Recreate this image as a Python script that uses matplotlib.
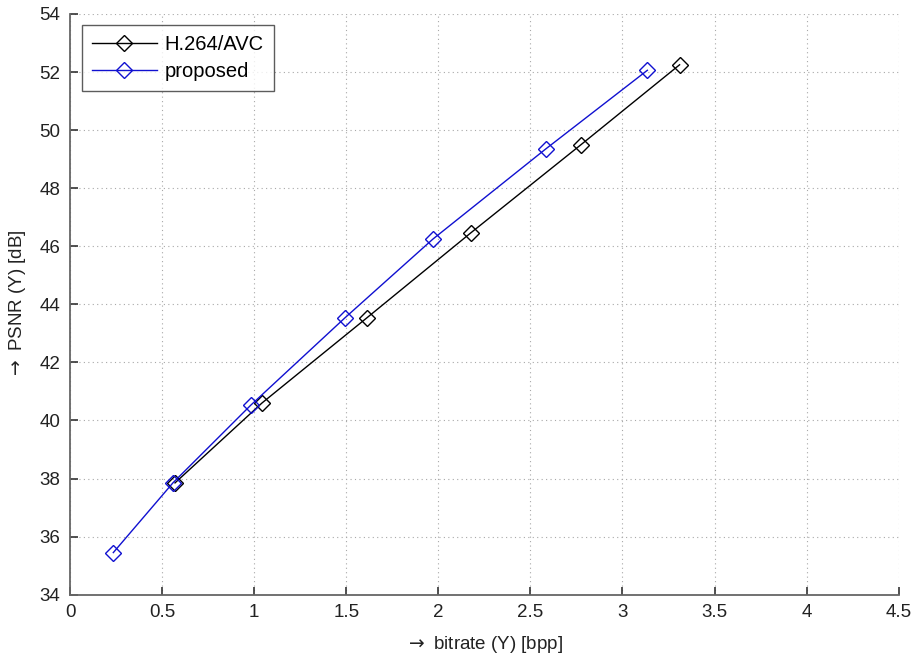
import matplotlib
matplotlib.use("Agg")
import matplotlib.pyplot as plt

h264_rate = [0.570, 1.042, 1.611, 2.176, 2.773, 3.310]
h264_psnr = [37.85, 40.60, 43.53, 46.46, 49.49, 52.25]
prop_rate = [0.235, 0.560, 0.982, 1.492, 1.971, 2.583, 3.135]
prop_psnr = [35.45, 37.86, 40.53, 43.53, 46.25, 49.35, 52.06]

xticks = [0, 0.5, 1, 1.5, 2, 2.5, 3, 3.5, 4, 4.5]
yticks = [34, 36, 38, 40, 42, 44, 46, 48, 50, 52, 54]

plt.rcParams['font.family'] = ['Liberation Sans', 'DejaVu Sans']

fig = plt.figure(figsize=(9.18, 6.62), dpi=100)
ax = fig.add_axes([0.0763, 0.1017, 0.9027, 0.8772])

ax.plot(h264_rate, h264_psnr, color='black', lw=1.0, marker='D', ms=8.5,
        mfc='none', mec='black', mew=1.0, label='H.264/AVC')
ax.plot(prop_rate, prop_psnr, color='#1010d0', lw=1.0, marker='D', ms=8.5,
        mfc='none', mec='#1010d0', mew=1.0, label='proposed')

ax.set_xlim(0, 4.5)
ax.set_ylim(34, 54)
ax.set_xticks(xticks)
ax.set_xticklabels([f"{t:g}" for t in xticks])
ax.set_yticks(yticks)
ax.set_yticklabels([f"{t:g}" for t in yticks])

ax.grid(True, linestyle=(0, (1, 3)), color='#a8a8a8', lw=0.8)
ax.set_axisbelow(True)
for s in ['top', 'right']:
    ax.spines[s].set_visible(False)
for s in ['left', 'bottom']:
    ax.spines[s].set_color('#666666')
    ax.spines[s].set_linewidth(1.3)
ax.tick_params(direction='in', length=6, width=1.2, color='#333333',
               labelsize=13.5, labelcolor='#222222', pad=7)

ax.set_xlabel(r'$\rightarrow$ bitrate (Y) [bpp]', fontsize=13.5, color='#222222', labelpad=9)
ax.set_ylabel(r'$\rightarrow$ PSNR (Y) [dB]', fontsize=13.5, color='#222222', labelpad=8)

leg = ax.legend(loc='upper left', bbox_to_anchor=(0.0145, 0.981), fontsize=14.5,
                frameon=True, fancybox=False, edgecolor='#333333',
                handlelength=3.2, handletextpad=0.4, borderpad=0.5,
                labelspacing=0.4, borderaxespad=0)
leg.get_frame().set_linewidth(1.0)

fig.savefig('out.png', dpi=100)
